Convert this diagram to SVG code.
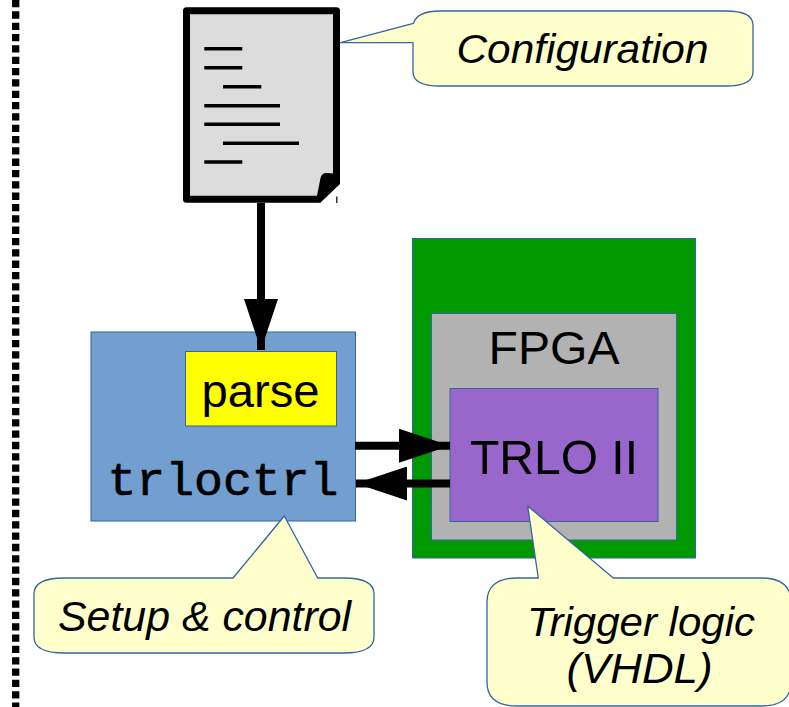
<svg xmlns="http://www.w3.org/2000/svg" width="789" height="707" viewBox="0 0 789 707">
<style>
.sans{font-family:"Liberation Sans",Arial,sans-serif;fill:#000}
.ital{font-family:"Liberation Sans",Arial,sans-serif;font-style:italic;fill:#000}
.mono{font-family:"Liberation Mono","Courier New",monospace;fill:#000;stroke:#000;stroke-width:0.7}
.bubble{fill:#ffffcc;stroke:#3465a4;stroke-width:1.3;stroke-linejoin:round}
.box{stroke:#3465a4;stroke-width:1}
.conn{stroke:#000;stroke-width:8;fill:none}
.doc-line{stroke:#000;stroke-width:3.4}
</style>
<defs>
<marker id="ah" markerUnits="userSpaceOnUse" markerWidth="52" markerHeight="34" refX="51" refY="17" orient="auto">
<path d="M0,0 L51,17 L0,34 Z" fill="#000"/>
</marker>
</defs>

<line x1="15.7" y1="0" x2="15.7" y2="707" stroke="#000" stroke-width="7.3" stroke-dasharray="7.3 4.03"/>

<g id="document">
<path d="M186.5,10.8 H336.5 V182 L318,199.3 H186.5 Z" fill="#dcdcdc" stroke="#000" stroke-width="7" stroke-linejoin="round"/>
<path d="M316,201 L320.5,178 Q322,172.5 327,173 L333,173.5 L340,178 L340,184 L320,203 Z" fill="#000"/>
<line x1="336.8" y1="196.5" x2="336.8" y2="203" stroke="#000" stroke-width="1.2"/>
<line class="doc-line" x1="204.3" y1="48.7" x2="242.3" y2="48.7"/>
<line class="doc-line" x1="204.3" y1="67.7" x2="242.3" y2="67.7"/>
<line class="doc-line" x1="223" y1="86.7" x2="261.3" y2="86.7"/>
<line class="doc-line" x1="204.3" y1="105.7" x2="280" y2="105.7"/>
<line class="doc-line" x1="204.3" y1="124.3" x2="280" y2="124.3"/>
<line class="doc-line" x1="223" y1="143.3" x2="299" y2="143.3"/>
<line class="doc-line" x1="204.3" y1="162" x2="242.3" y2="162"/>
</g>

<g id="config-callout">
<path class="bubble" d="M440,11 H726 Q753,11 753,25 V72 Q753,86 726,86 H440 Q413,86 413,72 V42.7 L340.5,42.7 L413.5,23.3 Q417,11 440,11 Z"/>
<text class="ital" x="582.5" y="63.3" font-size="41" text-anchor="middle" textLength="252" lengthAdjust="spacingAndGlyphs">Configuration</text>
</g>

<g id="trloctrl">
<rect class="box" x="91" y="332" width="264.5" height="189" fill="#729fcf"/>
<text class="mono" x="223" y="495" font-size="47" text-anchor="middle" textLength="231" lengthAdjust="spacingAndGlyphs">trloctrl</text>
</g>

<g id="parse">
<rect class="box" x="185.5" y="351.5" width="151" height="74.5" fill="#ffff00"/>
<text class="sans" x="260.5" y="406.5" font-size="47" text-anchor="middle" textLength="118" lengthAdjust="spacingAndGlyphs">parse</text>
</g>

<g id="board">
<rect class="box" x="412.5" y="238.5" width="283" height="319.5" fill="#009900"/>
</g>

<g id="fpga">
<rect class="box" x="431.5" y="313.5" width="245" height="226.5" fill="#b2b2b2"/>
<text class="sans" x="554" y="364" font-size="47" text-anchor="middle" textLength="131" lengthAdjust="spacingAndGlyphs">FPGA</text>
</g>

<g id="trlo">
<rect class="box" x="450" y="388.5" width="208" height="133" fill="#9966cc"/>
<text class="sans" x="554" y="473.5" font-size="49" text-anchor="middle" textLength="168" lengthAdjust="spacingAndGlyphs">TRLO II</text>
</g>

<g id="connectors">
<line class="conn" x1="261" y1="203" x2="261" y2="350" marker-end="url(#ah)"/>
<line class="conn" x1="355" y1="445.7" x2="450" y2="445.7" marker-end="url(#ah)"/>
<line class="conn" x1="450" y1="483.5" x2="356" y2="483.5" marker-end="url(#ah)"/>
</g>

<g id="setup-callout">
<path class="bubble" d="M34,594 Q34,578 64,578 H233 L284.3,516 L317.7,578 H344 Q374,578 374,594 V637 Q374,653 344,653 H64 Q34,653 34,637 Z"/>
<text class="ital" x="204.5" y="630.5" font-size="42" text-anchor="middle" textLength="293" lengthAdjust="spacingAndGlyphs">Setup &amp; control</text>
</g>

<g id="trigger-callout">
<path class="bubble" d="M487,602 Q487,578 517,578 H538.3 L527.7,506 L613.3,578 H761 Q791,578 791,602 V682 Q791,706 761,706 H517 Q487,706 487,682 Z"/>
<text class="ital" x="641" y="635.5" font-size="41" text-anchor="middle" textLength="228" lengthAdjust="spacingAndGlyphs">Trigger logic</text>
<text class="ital" x="639.5" y="683" font-size="42" text-anchor="middle" textLength="146" lengthAdjust="spacingAndGlyphs">(VHDL)</text>
</g>
</svg>
